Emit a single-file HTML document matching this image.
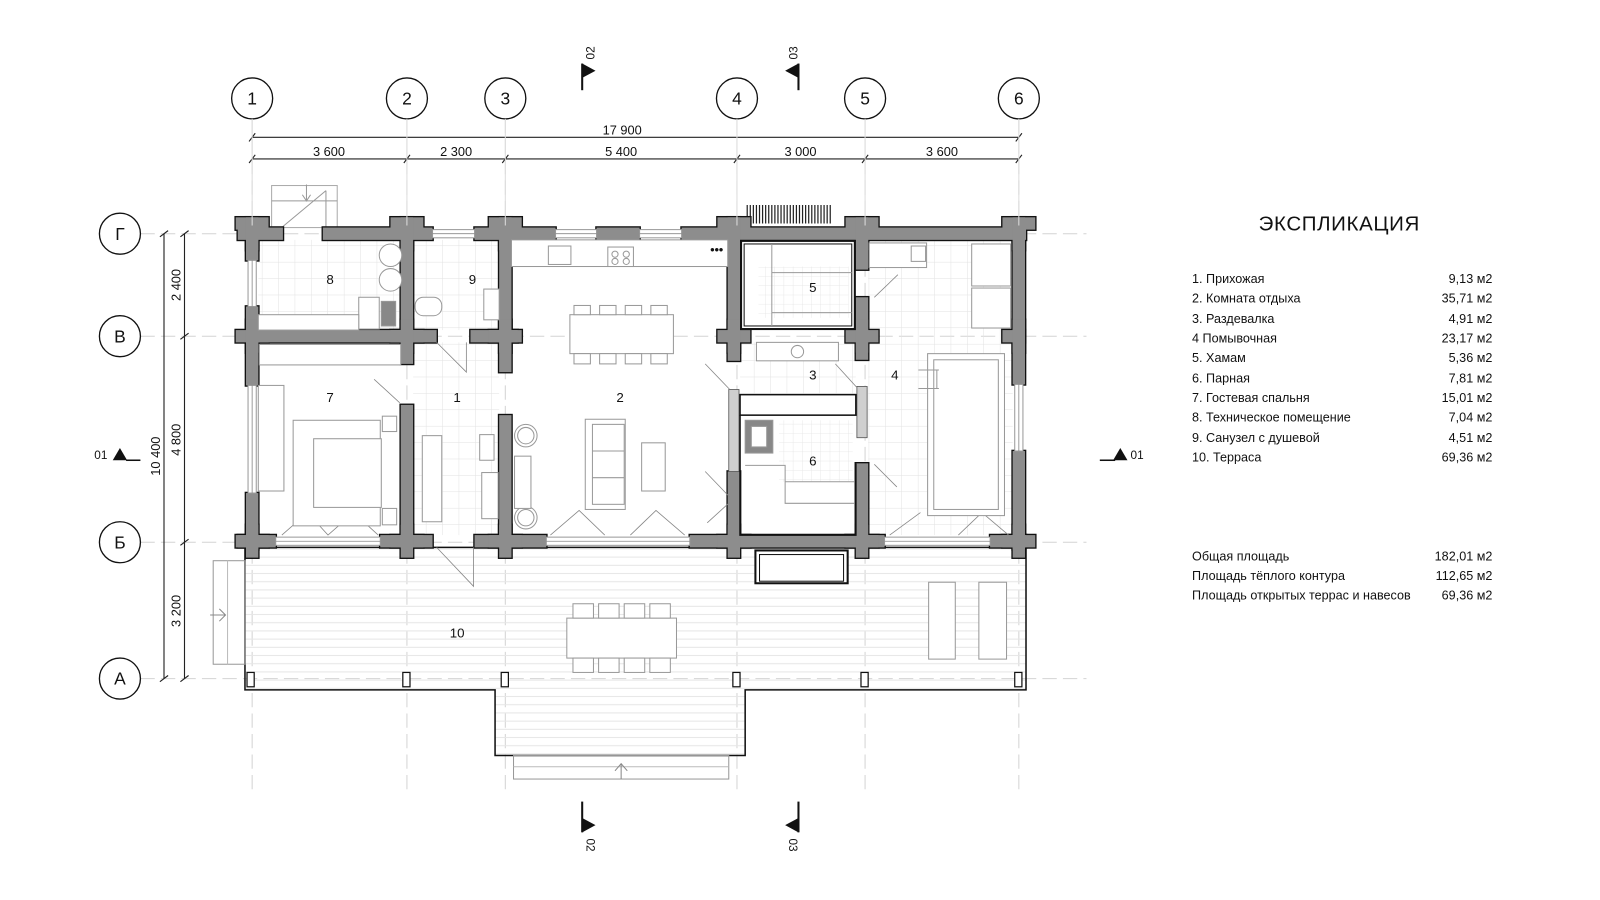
<!DOCTYPE html>
<html><head><meta charset="utf-8"><style>
html,body{margin:0;padding:0;background:#fff;}
svg{display:block;}
text{font-family:"Liberation Sans","DejaVu Sans",sans-serif;fill:#111;}
</style></head><body>
<svg width="1600" height="900" viewBox="0 0 1561 878" preserveAspectRatio="none" xmlns="http://www.w3.org/2000/svg">
<defs>
<pattern id="tile" width="16" height="16" patternUnits="userSpaceOnUse">
<path d="M16 0V16M0 16H16" stroke="#e2e2e2" stroke-width="1" fill="none"/>
</pattern>
<pattern id="tile2" width="9" height="9" patternUnits="userSpaceOnUse">
<path d="M9 0V9M0 9H9" stroke="#e4e4e4" stroke-width="0.8" fill="none"/>
</pattern>
<pattern id="deck" width="10" height="8" patternUnits="userSpaceOnUse">
<path d="M0 7.5H10" stroke="#e6e6e6" stroke-width="1" fill="none"/>
</pattern>
<g id="walls">
<rect x="232" y="222" width="44" height="12"/>
<rect x="315" y="222" width="107" height="12"/>
<rect x="463" y="222" width="79" height="12"/>
<rect x="582" y="222" width="42" height="12"/>
<rect x="665" y="222" width="336" height="12"/>
<rect x="240" y="222" width="12" height="32"/>
<rect x="240" y="299" width="12" height="77"/>
<rect x="240" y="481" width="12" height="55"/>
<rect x="988" y="222" width="12" height="153"/>
<rect x="988" y="440" width="12" height="96"/>
<rect x="232" y="522" width="37" height="12"/>
<rect x="371" y="522" width="51" height="12"/>
<rect x="463" y="522" width="70" height="12"/>
<rect x="673" y="522" width="190" height="12"/>
<rect x="966" y="522" width="35" height="12"/>
<rect x="391" y="222" width="12" height="133"/>
<rect x="391" y="395" width="12" height="139"/>
<rect x="487" y="222" width="12" height="141"/>
<rect x="487" y="405" width="12" height="129"/>
<rect x="240" y="322" width="186" height="12"/>
<rect x="459" y="322" width="46" height="12"/>
<rect x="710" y="222" width="12" height="130"/>
<rect x="710" y="460" width="12" height="74"/>
<rect x="835" y="222" width="12" height="41"/>
<rect x="835" y="290" width="12" height="61"/>
<rect x="835" y="452" width="12" height="82"/>
<!-- posts -->
<rect x="230" y="212" width="32" height="12"/><rect x="240" y="212" width="12" height="32"/>
<rect x="381" y="212" width="32" height="12"/><rect x="391" y="212" width="12" height="32"/>
<rect x="477" y="212" width="32" height="12"/><rect x="487" y="212" width="12" height="32"/>
<rect x="700" y="212" width="32" height="12"/><rect x="710" y="212" width="12" height="32"/>
<rect x="825" y="212" width="32" height="12"/><rect x="835" y="212" width="12" height="32"/>
<rect x="978" y="212" width="32" height="12"/><rect x="988" y="212" width="12" height="32"/>
<rect x="230" y="322" width="32" height="12"/><rect x="240" y="312" width="12" height="32"/>
<rect x="381" y="322" width="32" height="12"/><rect x="391" y="312" width="12" height="32"/>
<rect x="477" y="322" width="32" height="12"/><rect x="487" y="312" width="12" height="32"/>
<rect x="700" y="322" width="32" height="12"/><rect x="710" y="312" width="12" height="32"/>
<rect x="825" y="322" width="32" height="12"/><rect x="835" y="312" width="12" height="32"/>
<rect x="978" y="322" width="22" height="12"/><rect x="988" y="312" width="12" height="32"/>
<rect x="230" y="522" width="32" height="12"/><rect x="240" y="512" width="12" height="32"/>
<rect x="381" y="522" width="32" height="12"/><rect x="391" y="512" width="12" height="32"/>
<rect x="477" y="522" width="32" height="12"/><rect x="487" y="512" width="12" height="32"/>
<rect x="700" y="522" width="32" height="12"/><rect x="710" y="512" width="12" height="32"/>
<rect x="825" y="522" width="32" height="12"/><rect x="835" y="512" width="12" height="32"/>
<rect x="978" y="522" width="32" height="12"/><rect x="988" y="512" width="12" height="32"/>
</g>
</defs>

<!-- grid lines -->
<g stroke="#d4d4d4" stroke-width="1" stroke-dasharray="14 6" fill="none">
<path d="M137 228H1060M137 328H1060M137 529H1060M137 662H1060"/>
<path d="M246 116V770M397 116V770M493 116V770M719 116V770M844 116V770M994 116V770"/>
</g>

<!-- terrace -->
<path d="M239 534H1001V673H727V737H483V673H239Z" fill="url(#deck)" stroke="#111" stroke-width="1.5"/>
<rect x="501" y="737" width="210" height="23" fill="none" stroke="#999"/>
<path d="M501 748H711" stroke="#bbb"/>
<path d="M606 760V745M600 752L606 745L612 752" stroke="#888" fill="none"/>
<rect x="208" y="547" width="31" height="101" fill="none" stroke="#999"/>
<path d="M222 547V648" stroke="#bbb"/>
<path d="M205 600H220M214 594L220 600L214 606" stroke="#888" fill="none"/>
<!-- columns -->
<g fill="#fff" stroke="#111" stroke-width="1.2">
<rect x="241" y="656" width="7" height="14"/><rect x="393" y="656" width="7" height="14"/><rect x="489" y="656" width="7" height="14"/>
<rect x="715" y="656" width="7" height="14"/><rect x="840" y="656" width="7" height="14"/><rect x="990" y="656" width="7" height="14"/>
</g>
<!-- outside stair at room 8 -->
<rect x="265" y="181" width="64" height="41" fill="none" stroke="#aaa"/>
<path d="M265 196H329M276 221L318 186M318 186V222M299 180V196M295 190L299 196L303 190" stroke="#999" fill="none"/>
<!-- vent grill -->
<g stroke="#222" stroke-width="1.2">
<path d="M729 200V218M732 200V218M735 200V218M738 200V218M741 200V218M744 200V218M747 200V218M750 200V218M753 200V218M756 200V218M759 200V218M762 200V218M765 200V218M768 200V218M771 200V218M774 200V218M777 200V218M780 200V218M783 200V218M786 200V218M789 200V218M792 200V218M795 200V218M798 200V218M801 200V218M804 200V218M807 200V218M810 200V218"/>
</g>

<!-- floor tiles -->
<rect x="252" y="234" width="139" height="88" fill="url(#tile)"/>
<rect x="403" y="234" width="84" height="88" fill="url(#tile)"/>
<rect x="403" y="334" width="84" height="188" fill="url(#tile)"/>
<rect x="847" y="234" width="141" height="288" fill="url(#tile)"/>
<rect x="722" y="334" width="113" height="50" fill="url(#tile)"/>
<rect x="740" y="260" width="88" height="50" fill="url(#tile2)"/>
<rect x="760" y="410" width="72" height="60" fill="url(#tile2)"/>

<!-- walls -->
<use href="#walls" fill="#111" stroke="#111" stroke-width="2.6"/>
<use href="#walls" fill="#8d8d8d"/>

<!-- partitions -->
<rect x="711" y="380" width="10" height="80" fill="#cfcfcf" stroke="#555" stroke-width="0.8"/>
<rect x="836" y="377" width="10" height="50" fill="#cfcfcf" stroke="#555" stroke-width="0.8"/>
<rect x="722" y="385" width="113" height="20" fill="#fff" stroke="#111" stroke-width="1.5"/>
<rect x="723" y="235" width="111" height="86" fill="none" stroke="#111" stroke-width="2"/>
<rect x="726" y="238" width="105" height="80" fill="none" stroke="#111" stroke-width="1"/>
<!-- room 6 outline -->
<path d="M722 405V522H835V452" fill="none" stroke="#111" stroke-width="1.5"/>

<!-- windows -->
<g fill="#fff" stroke="#999" stroke-width="1">
<rect x="422" y="224" width="41" height="8"/><rect x="542" y="224" width="40" height="8"/><rect x="624" y="224" width="41" height="8"/>
<rect x="242" y="254" width="8" height="45"/><rect x="242" y="376" width="8" height="105"/>
<rect x="990" y="375" width="8" height="65"/>
<rect x="269" y="524" width="102" height="8"/><rect x="533" y="524" width="140" height="8"/><rect x="863" y="524" width="103" height="8"/>
</g>
<g stroke="#888" stroke-width="0.8" fill="none">
<path d="M422 228H463M542 228H582M624 228H665M246 254V299M246 376V481M994 375V440M269 528H371M533 528H673M863 528H966"/>
<!-- folding doors -->
<path d="M275 522L300 500L320 522L345 500L369 522M537 522L565 498L590 522M615 522L640 498L668 522M868 522L898 500M935 522L958 500L984 522"/>
<!-- swing doors -->
<path d="M426 334L455 363V334M365 370L390 393M426 534L462 572V534M688 355L712 380M815 355L836 378M853 290L876 268M853 453L875 475M688 460L712 485M690 510L712 490"/>
</g>

<!-- furniture -->
<g fill="#fff" stroke="#999" stroke-width="1">
<!-- kitchen -->
<rect x="499" y="234" width="211" height="26"/>
<rect x="535" y="240" width="22" height="18"/>
<rect x="593" y="241" width="25" height="19"/>
<circle cx="600" cy="248" r="3"/><circle cx="611" cy="248" r="3"/><circle cx="600" cy="255" r="3"/><circle cx="611" cy="255" r="3"/>
<!-- dining -->
<rect x="556" y="307" width="101" height="38"/>
<rect x="560" y="298" width="16" height="9"/><rect x="585" y="298" width="16" height="9"/><rect x="610" y="298" width="16" height="9"/><rect x="635" y="298" width="16" height="9"/>
<rect x="560" y="345" width="16" height="10"/><rect x="585" y="345" width="16" height="10"/><rect x="610" y="345" width="16" height="10"/><rect x="635" y="345" width="16" height="10"/>
<!-- sofa -->
<rect x="571" y="409" width="39" height="88"/><rect x="578" y="414" width="31" height="78"/>
<path d="M578 440H609M578 466H609"/>
<rect x="626" y="432" width="23" height="47"/>
<circle cx="513" cy="425" r="11"/><circle cx="513" cy="425" r="8"/>
<circle cx="513" cy="505" r="11"/><circle cx="513" cy="505" r="8"/>
<rect x="502" y="445" width="16" height="51"/>
<!-- hall -->
<rect x="412" y="425" width="19" height="84"/>
<rect x="468" y="424" width="14" height="25"/>
<rect x="470" y="461" width="16" height="45"/>
<!-- bedroom -->
<rect x="252" y="376" width="25" height="103"/>
<rect x="286" y="410" width="85" height="103"/>
<rect x="306" y="428" width="66" height="67"/>
<rect x="373" y="406" width="14" height="15"/><rect x="373" y="496" width="14" height="16"/>
<rect x="253" y="336" width="138" height="20"/>
<!-- room 8 -->
<circle cx="381" cy="249" r="11"/><circle cx="381" cy="273" r="11"/>
<rect x="350" y="290" width="20" height="31"/>
<rect x="372" y="294" width="14" height="24" fill="#888"/>
<rect x="252" y="307" width="98" height="15"/>
<!-- room 9 -->
<rect x="405" y="290" width="26" height="18" rx="8"/>
<rect x="472" y="282" width="15" height="30"/>
<!-- room 3 bench -->
<rect x="738" y="334" width="80" height="18"/>
<circle cx="778" cy="343" r="6"/>
<!-- room 5 benches -->
<path d="M753 238V318M753 266H831M753 305H831"/>
<!-- room 6 -->
<rect x="727" y="410" width="27" height="32" fill="#888"/><rect x="733" y="416" width="15" height="20"/>
<path d="M727 454H766V491H834M766 470H834"/>
<!-- room 4 -->
<rect x="848" y="237" width="56" height="24"/><rect x="889" y="240" width="14" height="15"/>
<rect x="948" y="238" width="38" height="41"/><rect x="948" y="281" width="38" height="39"/>
<rect x="905" y="345" width="75" height="158"/><rect x="911" y="351" width="63" height="146"/>
<path d="M896 361H916M896 379H916M914 361V379"/>
<!-- terrace -->
<rect x="553" y="603" width="107" height="39"/>
<rect x="559" y="589" width="20" height="14"/><rect x="584" y="589" width="20" height="14"/><rect x="609" y="589" width="20" height="14"/><rect x="634" y="589" width="20" height="14"/>
<rect x="559" y="642" width="20" height="14"/><rect x="584" y="642" width="20" height="14"/><rect x="609" y="642" width="20" height="14"/><rect x="634" y="642" width="20" height="14"/>
<rect x="906" y="568" width="26" height="75"/><rect x="955" y="568" width="27" height="75"/>
</g>
<rect x="737" y="537" width="90" height="32" fill="#fff" stroke="#111" stroke-width="2"/>
<rect x="741" y="541" width="82" height="26" fill="#fff" stroke="#111" stroke-width="1"/>
<text x="693" y="248" font-size="12" font-weight="bold">•••</text>

<!-- room labels -->
<g font-size="13" text-anchor="middle">
<text x="322" y="277">8</text><text x="461" y="277">9</text><text x="793" y="285">5</text>
<text x="322" y="392">7</text><text x="446" y="392">1</text><text x="605" y="392">2</text>
<text x="793" y="370">3</text><text x="873" y="370">4</text><text x="793" y="454">6</text>
<text x="446" y="622">10</text>
</g>

<!-- axis circles -->
<g fill="#fff" stroke="#111" stroke-width="1.3">
<circle cx="246" cy="96" r="20"/><circle cx="397" cy="96" r="20"/><circle cx="493" cy="96" r="20"/>
<circle cx="719" cy="96" r="20"/><circle cx="844" cy="96" r="20"/><circle cx="994" cy="96" r="20"/>
<circle cx="117" cy="228" r="20"/><circle cx="117" cy="328" r="20"/><circle cx="117" cy="529" r="20"/><circle cx="117" cy="662" r="20"/>
</g>
<g font-size="17" text-anchor="middle">
<text x="246" y="102">1</text><text x="397" y="102">2</text><text x="493" y="102">3</text>
<text x="719" y="102">4</text><text x="844" y="102">5</text><text x="994" y="102">6</text>
<text x="117" y="234">Г</text><text x="117" y="334">В</text><text x="117" y="535">Б</text><text x="117" y="668">А</text>
</g>

<!-- dimensions -->
<g stroke="#222" stroke-width="1.1" fill="none">
<path d="M246 134H994M246 155H994M160 228V662M180 228V662"/>
<path d="M243 138L249 130M991 138L997 130M243 159L249 151M394 159L400 151M490 159L496 151M716 159L722 151M841 159L847 151M991 159L997 151"/>
<path d="M156 231L164 225M156 665L164 659M176 231L184 225M176 331L184 325M176 532L184 526M176 665L184 659"/>
</g>
<g stroke="#ddd" stroke-width="1"><path d="M246 116V220M397 116V220M493 116V220M719 116V220M844 116V220M994 116V220"/></g>
<g font-size="12.5" text-anchor="middle">
<text x="607" y="131">17 900</text>
<text x="321" y="152">3 600</text><text x="445" y="152">2 300</text><text x="606" y="152">5 400</text>
<text x="781" y="152">3 000</text><text x="919" y="152">3 600</text>
<text transform="translate(156 445) rotate(-90)">10 400</text>
<text transform="translate(176 278) rotate(-90)">2 400</text>
<text transform="translate(176 429) rotate(-90)">4 800</text>
<text transform="translate(176 596) rotate(-90)">3 200</text>
</g>

<!-- section markers -->
<g stroke="#111" stroke-width="2" fill="#111">
<path d="M568 62V88" fill="none"/><path d="M568 62L581 69L568 76Z" stroke="none"/>
<path d="M779 62V88" fill="none"/><path d="M779 62L766 69L779 76Z" stroke="none"/>
<path d="M568 782V812" fill="none"/><path d="M568 798L581 805L568 812Z" stroke="none"/>
<path d="M779 782V812" fill="none"/><path d="M779 798L766 805L779 812Z" stroke="none"/>
<path d="M123 449H137" fill="none" stroke-width="1.5"/><path d="M110 449L117 437L124 449Z" stroke="none"/>
<path d="M1073 449H1088" fill="none" stroke-width="1.5"/><path d="M1086 449L1093 437L1100 449Z" stroke="none"/>
</g>
<g font-size="11.5">
<text transform="translate(580 58) rotate(-90)">02</text>
<text transform="translate(778 58) rotate(-90)">03</text>
<text transform="translate(572 818) rotate(90)">02</text>
<text transform="translate(770 818) rotate(90)">03</text>
<text x="92" y="448">01</text><text x="1103" y="448">01</text>
</g>

<!-- legend -->
<text x="1228" y="225" font-size="20" letter-spacing="0.6">ЭКСПЛИКАЦИЯ</text>
<g font-size="12.3">
<text x="1163" y="276">1.  Прихожая</text>
<text x="1163" y="295">2.  Комната отдыха</text>
<text x="1163" y="315">3.  Раздевалка</text>
<text x="1163" y="334">4   Помывочная</text>
<text x="1163" y="353">5.  Хамам</text>
<text x="1163" y="373">6.  Парная</text>
<text x="1163" y="392">7.  Гостевая спальня</text>
<text x="1163" y="411">8.  Техническое помещение</text>
<text x="1163" y="431">9.  Санузел с душевой</text>
<text x="1163" y="450">10. Терраса</text>
<text x="1163" y="547">Общая площадь</text>
<text x="1163" y="566">Площадь тёплого контура</text>
<text x="1163" y="585">Площадь открытых террас и навесов</text>
</g>
<g font-size="12.3" text-anchor="end">
<text x="1456" y="276">9,13 м2</text><text x="1456" y="295">35,71 м2</text><text x="1456" y="315">4,91 м2</text>
<text x="1456" y="334">23,17 м2</text><text x="1456" y="353">5,36 м2</text><text x="1456" y="373">7,81 м2</text>
<text x="1456" y="392">15,01 м2</text><text x="1456" y="411">7,04 м2</text><text x="1456" y="431">4,51 м2</text>
<text x="1456" y="450">69,36 м2</text>
<text x="1456" y="547">182,01 м2</text><text x="1456" y="566">112,65 м2</text><text x="1456" y="585">69,36 м2</text>
</g>
</svg>
</body></html>
